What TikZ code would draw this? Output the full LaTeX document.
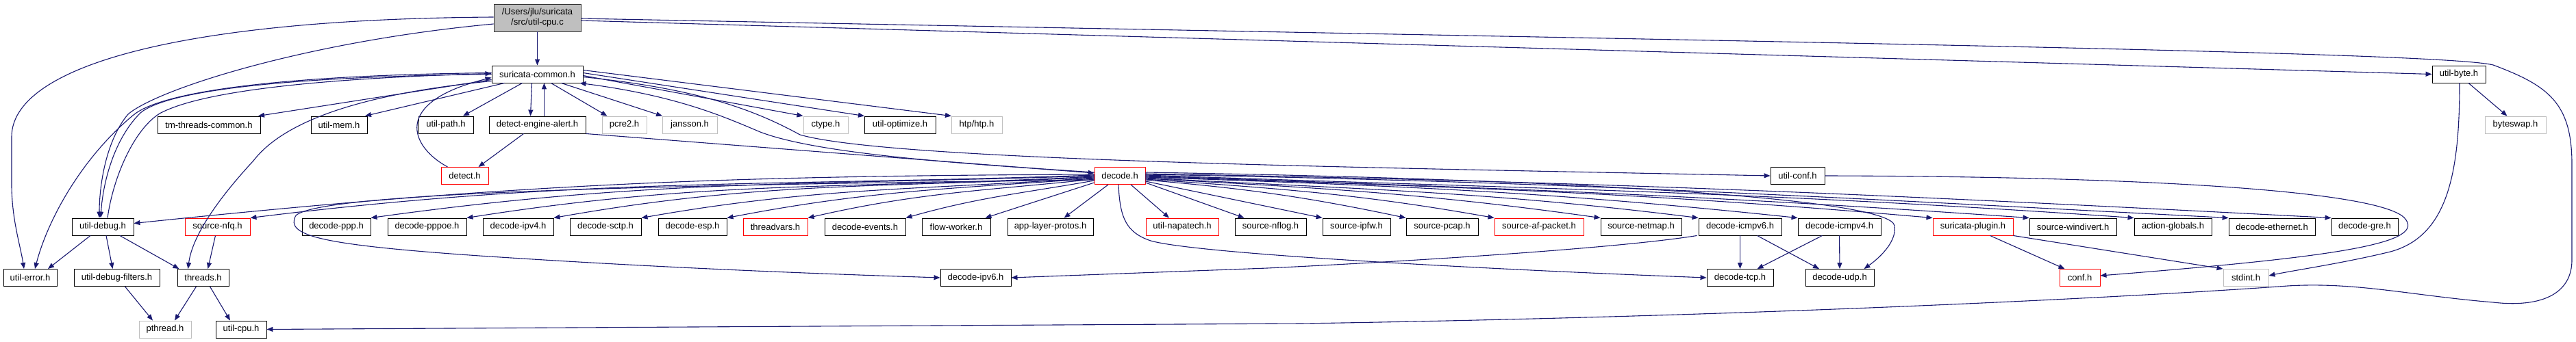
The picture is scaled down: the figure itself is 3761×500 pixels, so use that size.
\documentclass[tikz,border=0pt]{standalone}
\usepackage{fontspec}
\setmainfont{Liberation Sans}
\usetikzlibrary{arrows.meta}
\definecolor{eb}{HTML}{191970}
\definecolor{gb}{HTML}{BFBFBF}
\tikzset{
 box/.style={draw=black, line width=0.9pt, fill=white, inner sep=0pt, minimum height=25pt, font=\fontsize{13}{15}\selectfont},
 rbox/.style={box, draw=red},
 gbox/.style={box, draw=gb},
 lnk/.style={draw=eb, line width=1.1pt, -{Triangle[length=9pt,width=7pt]}},
}
\newcommand\nd[6]{\node[#6, minimum width=#4pt] (#1) at (#2,#3) {#5};}
\newcommand\fan[6]{\draw[lnk] (#1) .. controls +(#3,#4) and +(#5,#6) .. (#2);}
\begin{document}
\begin{tikzpicture}[x=1pt,y=-1pt]
\useasboundingbox (0,0) rectangle (3761,500);
% nodes
\node[box, fill=gb, draw=black!80, minimum width=127pt, minimum height=40pt, align=center] (root) at (784.5,26) {/Users/jlu/suricata\\/src/util-cpu.c};
\nd{sc}{784.5}{108.5}{133}{suricata-common.h}{box}
\nd{ub}{3590}{108.5}{78}{util-byte.h}{box}
% row 2
\nd{tmc}{305}{182.5}{150}{tm-threads-common.h}{box}
\nd{um}{495}{182.5}{82}{util-mem.h}{box}
\nd{up}{651}{182.5}{80}{util-path.h}{box}
\nd{dea}{784.5}{182.5}{141}{detect-engine-alert.h}{box}
\nd{pcre}{911.5}{182.5}{65}{pcre2.h}{gbox}
\nd{jan}{1007}{182.5}{80}{jansson.h}{gbox}
\nd{ctype}{1205.5}{182.5}{65}{ctype.h}{gbox}
\nd{uopt}{1314}{182.5}{104}{util-optimize.h}{box}
\nd{htp}{1426}{182.5}{74}{htp/htp.h}{gbox}
\nd{bsw}{3672.5}{182.5}{89}{byteswap.h}{gbox}
% row 3
\nd{det}{678.5}{257}{69}{detect.h}{rbox}
\nd{dec}{1635}{257}{74}{decode.h}{rbox}
\nd{uconf}{2624.5}{257}{79}{util-conf.h}{box}
% row 4
\nd{udbg}{150}{331.5}{90}{util-debug.h}{box}
\nd{nfq}{317.5}{331.5}{95}{source-nfq.h}{rbox}
\nd{ppp}{491}{331.5}{100}{decode-ppp.h}{box}
\nd{pppoe}{623.5}{331.5}{115}{decode-pppoe.h}{box}
\nd{ipv4}{756.5}{331.5}{103}{decode-ipv4.h}{box}
\nd{sctp}{884}{331.5}{104}{decode-sctp.h}{box}
\nd{esp}{1011}{331.5}{100}{decode-esp.h}{box}
\nd{tv}{1132}{331.5}{94}{threadvars.h}{rbox}
\nd{dev}{1263}{331.5}{118}{decode-events.h}{box}
\nd{fw}{1396}{331.5}{100}{flow-worker.h}{box}
\nd{alp}{1533.5}{331.5}{125}{app-layer-protos.h}{box}
\nd{nap}{1726}{331.5}{106}{util-napatech.h}{rbox}
\nd{nflog}{1855}{331.5}{104}{source-nflog.h}{box}
\nd{ipfw}{1980.5}{331.5}{99}{source-ipfw.h}{box}
\nd{pcap}{2105.5}{331.5}{105}{source-pcap.h}{box}
\nd{afp}{2247}{331.5}{130}{source-af-packet.h}{rbox}
\nd{netmap}{2396}{331.5}{118}{source-netmap.h}{box}
\nd{icmpsix}{2540.5}{331.5}{121}{decode-icmpv6.h}{box}
\nd{icmpfour}{2685.5}{331.5}{121}{decode-icmpv4.h}{box}
\nd{plug}{2880.5}{331.5}{117}{suricata-plugin.h}{rbox}
\nd{wdv}{3026.5}{331.5}{127}{source-windivert.h}{box}
\nd{ag}{3172.5}{331.5}{113}{action-globals.h}{box}
\nd{eth}{3317}{331.5}{126}{decode-ethernet.h}{box}
\nd{gre}{3452.5}{331.5}{97}{decode-gre.h}{box}
% row 5
\nd{uerr}{44}{406}{78}{util-error.h}{box}
\nd{udf}{170.5}{406}{125}{util-debug-filters.h}{box}
\nd{thr}{296.5}{406}{75}{threads.h}{box}
\nd{ipvsix}{1424.5}{406}{103}{decode-ipv6.h}{box}
\nd{tcp}{2540.5}{406}{97}{decode-tcp.h}{box}
\nd{udp}{2686}{406}{100}{decode-udp.h}{box}
\nd{conf}{3036.5}{406}{59}{conf.h}{rbox}
\nd{stdint}{3279}{406}{66}{stdint.h}{gbox}
% row 6
\nd{pth}{241}{481.5}{76}{pthread.h}{gbox}
\nd{ucpu}{352}{481.5}{74}{util-cpu.h}{box}

% root edges
\draw[lnk] (root.south) -- (sc.north);
\draw[lnk] ([yshift=1pt]root.west) .. controls (250,28) and (17,100) .. (17,200) -- (17,270) .. controls (17,320) and (30,360) .. ([xshift=-9pt]uerr.north);
\draw[lnk] ([yshift=-9pt]root.west) .. controls (450,60) and (230,130) .. (187,167) .. controls (155,205) and (145,270) .. ([xshift=-5pt]udbg.north);
\draw[lnk] ([yshift=-1pt]root.east) .. controls (2500,60) and (3560,75) .. (3640,95) .. controls (3720,125) and (3755,150) .. (3755,240) -- (3755,380) .. controls (3755,430) and (3710,450) .. (3640,442) .. controls (3520,432) and (3440,412) .. (3340,418) .. controls (3150,432) and (2600,462) .. (1900,473) -- (ucpu.east);
\draw[lnk] ([yshift=-4pt]root.east) -- (ub.west);
% suricata-common edges
\draw[lnk] ([yshift=-8pt]sc.west) -- ([xshift=72pt]tmc.north);
\draw[lnk] ([xshift=-48pt]sc.south) -- ([xshift=38pt]um.north);
\draw[lnk] ([xshift=-22pt]sc.south) -- ([xshift=25pt]up.north);
\draw[lnk] ([xshift=-8pt]sc.south) -- ([xshift=-10pt]dea.north);
\draw[lnk] ([xshift=10pt]dea.north) -- ([xshift=10pt]sc.south);
\draw[lnk] ([xshift=20pt]sc.south) -- ([xshift=-25pt]pcre.north);
\draw[lnk] ([xshift=35pt]sc.south) -- ([xshift=-40pt]jan.north);
\draw[lnk] ([yshift=-2pt]sc.east) -- ([xshift=-33pt]ctype.north);
\draw[lnk] ([yshift=2pt]sc.east) -- ([xshift=-52pt]uopt.north);
\draw[lnk] ([yshift=6pt]sc.east) -- ([xshift=-37pt]htp.north);
\draw[lnk] ([yshift=-4pt]sc.east) .. controls (1020,130) and (1100,160) .. (1168,197) .. controls (1300,235) and (2000,245) .. (uconf.west);
\draw[lnk] ([yshift=5pt]dec.west) .. controls (1450,242) and (1200,228) .. (1110,193) .. controls (1060,172) and (990,140) .. ([xshift=-5pt]sc.south east);
\draw[lnk] ([xshift=-20pt]dea.south) -- ([xshift=20pt]det.north);
\draw[lnk] (dea.south east) -- ([yshift=4pt]dec.west);
\draw[lnk] ([xshift=-25pt]det.north) .. controls (600,215) and (570,150) .. ([yshift=-5pt]sc.west);
\draw[lnk] ([yshift=2pt]sc.west) .. controls (400,110) and (235,135) .. (195,168) .. controls (120,230) and (70,320) .. ([xshift=7pt]uerr.north);
\draw[lnk] ([yshift=0pt]sc.west) .. controls (420,112) and (245,132) .. (205,165) .. controls (165,205) and (150,270) .. ([xshift=-3pt]udbg.north);
\draw[lnk] ([xshift=7pt]udbg.north) .. controls (165,260) and (195,190) .. (233,166) .. controls (290,135) and (450,115) .. ([yshift=1pt]sc.west);
\draw[lnk] ([yshift=-10pt]sc.west) .. controls (550,135) and (420,170) .. (370,235) .. controls (310,300) and (280,350) .. ([xshift=-22pt]thr.north);
% util-debug / threads
\draw[lnk] ([xshift=-18pt]udbg.south) -- ([xshift=26pt]uerr.north);
\draw[lnk] ([xshift=5pt]udbg.south) -- ([xshift=-6pt]udf.north);
\draw[lnk] ([xshift=25pt]udbg.south) -- ([xshift=-35pt]thr.north);
\draw[lnk] ([xshift=-3pt]nfq.south) -- ([xshift=7pt]thr.north);
\draw[lnk] ([xshift=12pt]udf.south) -- ([xshift=-18pt]pth.north);
\draw[lnk] ([xshift=-10pt]thr.south) -- ([xshift=14pt]pth.north);
\draw[lnk] ([xshift=10pt]thr.south) -- ([xshift=-16pt]ucpu.north);
% decode fan left
\fan{[yshift=2pt]dec.west}{[yshift=5pt]udbg.east}{-550}{2}{547}{-57}
\fan{[yshift=1pt]dec.west}{nfq.north east}{-482}{17}{478}{-59}
\fan{[yshift=0pt]dec.west}{ppp.north east}{-413}{14}{409}{-57}
\fan{[yshift=-1pt]dec.west}{pppoe.north east}{-358}{19}{354}{-56}
\fan{[yshift=-2pt]dec.west}{ipv4.north east}{-309}{16}{304}{-54}
\fan{[yshift=-3pt]dec.west}{sctp.north east}{-259}{18}{255}{-45}
\fan{[yshift=-4pt]dec.west}{esp.north east}{-211}{15}{207}{-40}
\fan{[yshift=-5pt]dec.west}{tv.north east}{-164}{17}{161}{-37}
\fan{[yshift=-7pt]dec.west}{dev.north east}{-108}{19}{106}{-30}
\draw[lnk] ([yshift=-10pt]dec.west) -- ([xshift=-8pt]fw.north east);
\draw[lnk] ([xshift=-17pt]dec.south) -- ([xshift=20pt]alp.north);
\draw[lnk] ([xshift=16pt]dec.south) -- ([xshift=-19pt]nap.north);
\draw[lnk] ([yshift=-10pt]dec.east) -- ([xshift=14pt]nflog.north west);
\draw[lnk] ([yshift=-6pt]dec.west) .. controls (1000,270) and (470,280) .. (432,315) .. controls (415,345) and (470,358) .. (700,374) .. controls (1000,394) and (1250,402) .. (ipvsix.west);
\draw[lnk] ([xshift=-2pt]dec.south) .. controls (1635,320) and (1645,340) .. (1680,352) .. controls (1750,372) and (2200,395) .. (tcp.west);
% decode fan right
\draw[lnk] ([yshift=-8pt]dec.east) -- (ipfw.north west);
\fan{[yshift=-6pt]dec.east}{pcap.north west}{150}{13}{-147}{-31}
\fan{[yshift=-5pt]dec.east}{afp.north west}{200}{14}{-197}{-35}
\fan{[yshift=-4pt]dec.east}{netmap.north west}{260}{14}{-257}{-36}
\fan{[yshift=-3pt]dec.east}{icmpsix.north west}{316}{17}{-314}{-39}
\fan{[yshift=-2pt]dec.east}{icmpfour.north west}{372}{13}{-370}{-39}
\fan{[yshift=-1pt]dec.east}{plug.north west}{449}{16}{-447}{-39}
\fan{[yshift=0pt]dec.east}{wdv.north west}{504}{18}{-503}{-35}
\fan{[yshift=1pt]dec.east}{ag.north west}{563}{20}{-562}{-39}
\fan{[yshift=2pt]dec.east}{eth.north west}{617}{11}{-616}{-32}
\fan{[yshift=3pt]dec.east}{gre.north west}{675}{12}{-674}{-35}
\draw[lnk] ([yshift=5pt]dec.east) .. controls (2300,262) and (2760,290) .. (2766,330) .. controls (2770,355) and (2740,380) .. ([xshift=-15pt]udp.north east);
% icmp
\draw[lnk] ([xshift=-2pt]icmpsix.south west) .. controls (2350,365) and (2000,385) .. (1850,392) -- (ipvsix.east);
\draw[lnk] (icmpsix.south) -- (tcp.north);
\draw[lnk] ([xshift=25pt]icmpsix.south) -- ([xshift=-30pt]udp.north);
\draw[lnk] ([xshift=-25pt]icmpfour.south) -- ([xshift=25pt]tcp.north);
\draw[lnk] (icmpfour.south) -- (udp.north);
% plugin, conf, byte
\draw[lnk] ([xshift=25pt]plug.south) -- ([xshift=-22pt]conf.north);
\draw[lnk] (plug.south east) -- (stdint.north west);
\draw[lnk] (uconf.east) .. controls (3150,258) and (3470,280) .. (3510,318) .. controls (3545,355) and (3420,375) .. ([yshift=3pt]conf.east);
\draw[lnk] ([xshift=1pt]ub.south) .. controls (3591,250) and (3575,345) .. (3490,368) .. controls (3420,385) and (3350,395) .. ([yshift=3pt]stdint.east);
\draw[lnk] ([xshift=14pt]ub.south) -- ([xshift=-12pt]bsw.north);
\end{tikzpicture}
\end{document}
